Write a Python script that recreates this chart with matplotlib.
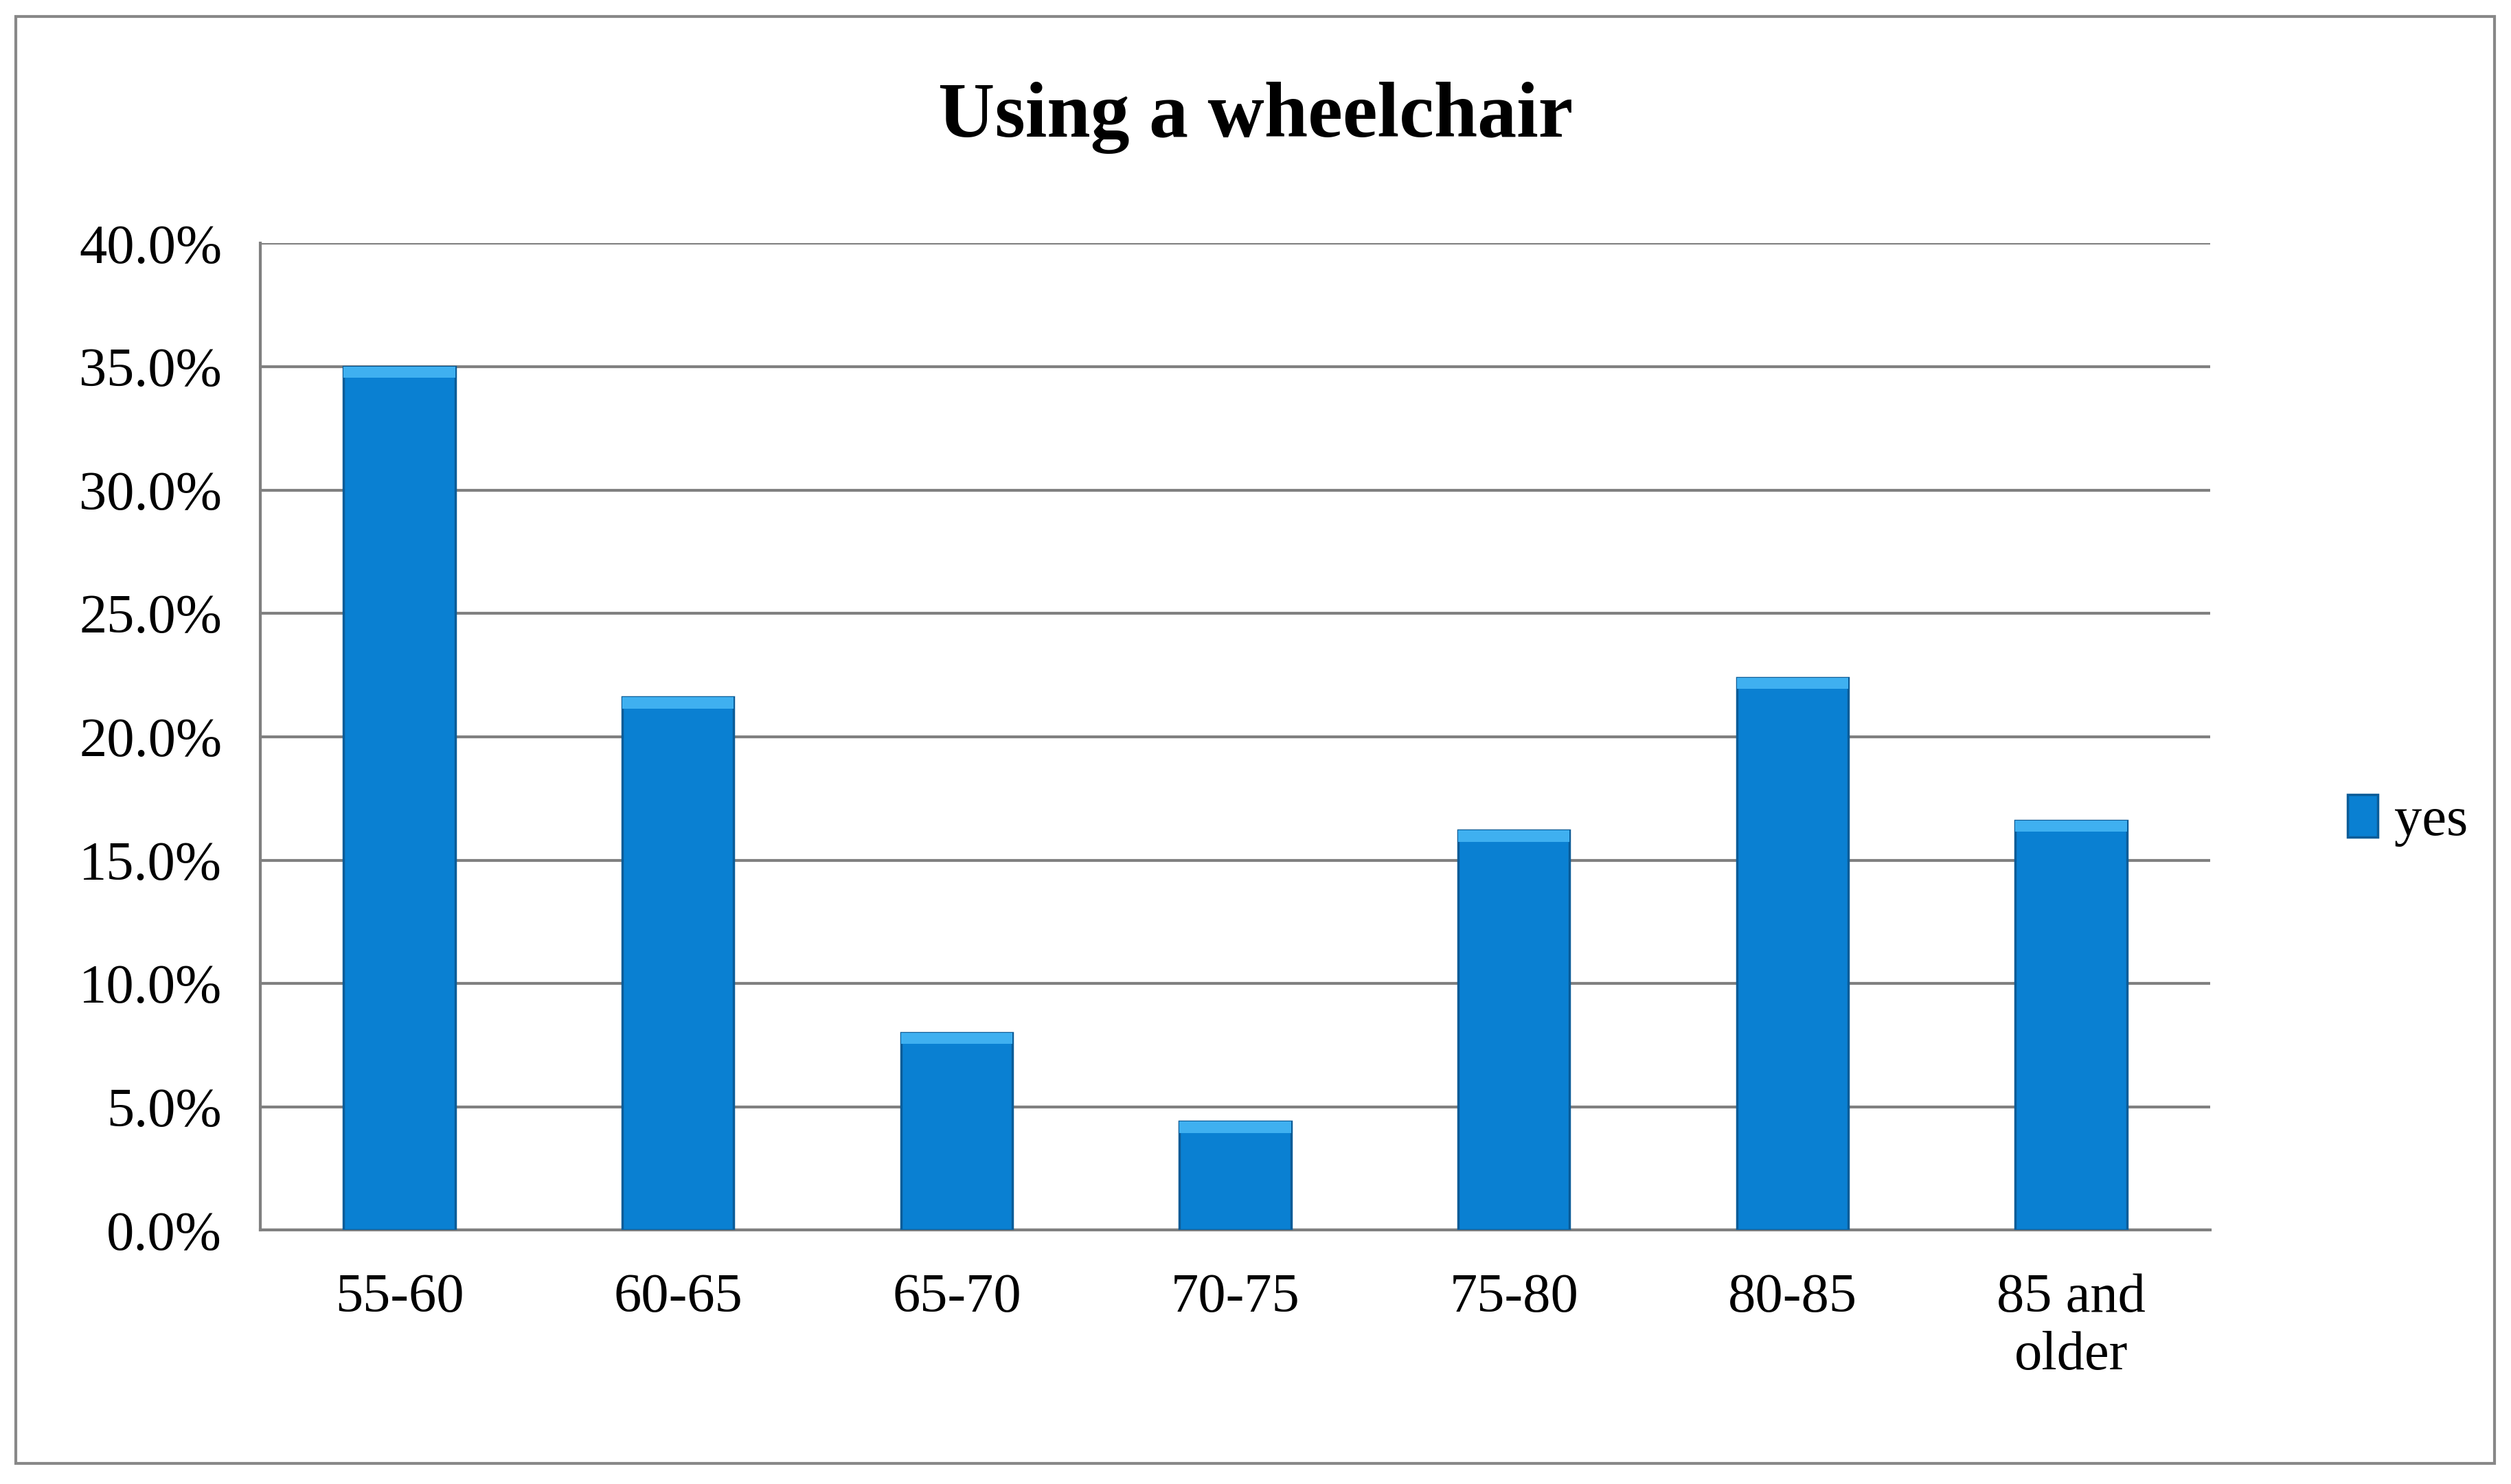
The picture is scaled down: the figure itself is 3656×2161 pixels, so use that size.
import matplotlib
matplotlib.use("Agg")
import matplotlib.pyplot as plt
from matplotlib.patches import Rectangle
import numpy as np

categories = ["55-60", "60-65", "65-70", "70-75", "75-80", "80-85", "85 and\nolder"]
values = [35.0, 21.6, 8.0, 4.4, 16.2, 22.4, 16.6]
series_name = "yes"

plt.rcParams['font.family'] = ['Liberation Serif', 'DejaVu Serif']
fig = plt.figure(figsize=(36.56, 21.61), dpi=100)
fig.patches.append(Rectangle((0.0064, 0.014), 0.987, 0.975, transform=fig.transFigure,
                             fill=False, edgecolor='#888888', linewidth=3))
ax = fig.add_axes([0.1036, 0.171, 0.7767, 0.665])
x = np.arange(len(categories))
bars = ax.bar(x, values, width=0.4, color='#0a80d2', edgecolor='#0b5c98', linewidth=2.5,
              label=series_name, zorder=3)
# bevel highlight on top
for b in bars:
    ax.add_patch(Rectangle((b.get_x(), b.get_height() - 0.45), b.get_width(), 0.45,
                           color='#3fb0f0', zorder=4, linewidth=0))
ax.set_xlim(-0.5, len(categories) - 0.5)
ax.set_ylim(0, 40)
ax.set_yticks(np.arange(0, 40.1, 5))
ax.set_yticklabels([f"{v:.1f}%" for v in np.arange(0, 40.1, 5)])
ax.set_xticks(x)
ax.set_xticklabels(categories)
ax.yaxis.grid(True, color='#808080', linewidth=3, zorder=0)
for s in ['top', 'right', 'left']:
    ax.spines[s].set_visible(False)
ax.spines['bottom'].set_color('#808080')
ax.spines['bottom'].set_linewidth(3)
ax.spines['left'].set_visible(True)
ax.spines['left'].set_color('#808080')
ax.spines['left'].set_linewidth(3)
ax.tick_params(axis='both', labelsize=58, length=0, pad=40)
ax.tick_params(axis='x', pad=45)
fig.suptitle("Using a wheelchair", fontsize=82, fontweight='bold', y=0.945)
ax.legend(loc='center left', bbox_to_anchor=(0.915, 0.447), bbox_transform=fig.transFigure,
          frameon=False, fontsize=58, handlelength=0.55, handleheight=0.8, handletextpad=0.3)
fig.savefig("out.png", dpi=100)
